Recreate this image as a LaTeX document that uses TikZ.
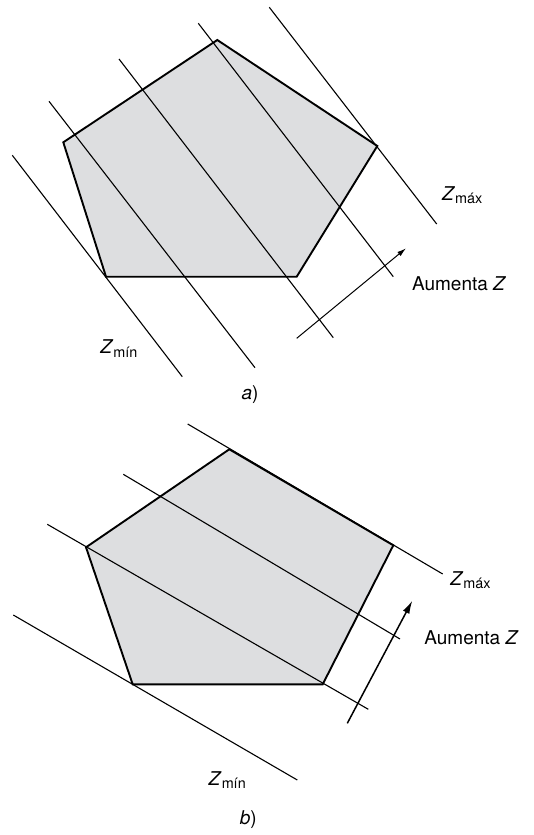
\documentclass[tikz,border=0pt]{standalone}
\usepackage{fontspec}
\setmainfont{TeX Gyre Heros}
\usetikzlibrary{arrows.meta}
\definecolor{regionfill}{RGB}{221,222,224}
\newcommand{\zsub}[1]{\textit{Z}\raisebox{-1.9pt}{\fontsize{7.2pt}{8pt}\selectfont #1}}

\begin{document}
\begin{tikzpicture}[
    x=0.5pt, y=-0.5pt,
    region/.style={draw=black, fill=regionfill, line width=0.95pt, line join=miter},
    level/.style={draw=black, line width=0.55pt},
    growth/.style={-{Latex[length=4.5pt, width=2.6pt]}, line width=0.5pt},
    growthb/.style={-{Latex[length=6.5pt, width=3.6pt]}, line width=0.75pt},
    every node/.style={font=\fontsize{9.5pt}{11pt}\selectfont, inner sep=0pt}
  ]
  \useasboundingbox (0,0) rectangle (534,835);

  % a)
  \coordinate (pa1) at (63.3,142.3);
  \coordinate (pa2) at (217.3,40);
  \coordinate (pa3) at (377.3,146);
  \coordinate (pa4) at (296.7,276.7);
  \coordinate (pa5) at (106,276.7);
  \draw[region] (pa1) -- (pa2) -- (pa3) -- (pa4) -- (pa5) -- cycle;

  \draw[level] (12.3,155.3) -- (182.3,376.7);
  \draw[level] (49,101.3) -- (255,367.7);
  \draw[level] (119,59) -- (333.3,337.7);
  \draw[level] (198.3,23.3) -- (393.3,276.7);
  \draw[level] (269.3,7.3) -- (436.7,224);

  \coordinate (ga0) at (296.7,338.3);
  \coordinate (ga1) at (406,248.3);
  \draw[growth] (ga0) -- (ga1);

  \node[anchor=base west] (zmaxa) at (441.7,200) {\zsub{máx}};
  \node[anchor=base west] (inca) at (411.7,290.7) {Aumenta \textit{Z}};
  \node[anchor=base west] (zmina) at (100,353.3) {\zsub{mín}};
  \node[anchor=base] (capa) at (250,399) {\textit{a})};

  % b)
  \coordinate (pb1) at (86,547.3);
  \coordinate (pb2) at (229.3,449.3);
  \coordinate (pb3) at (393.3,545.3);
  \coordinate (pb4) at (322.7,684.3);
  \coordinate (pb5) at (132.7,684.3);
  \draw[region] (pb1) -- (pb2) -- (pb3) -- (pb4) -- (pb5) -- cycle;

  \draw[level] (187.7,424) -- (442.7,574);
  \draw[level] (123.3,474.3) -- (400,639);
  \draw[level] (47.3,524.3) -- (368.3,709.3);
  \draw[level] (13.3,615) -- (297.3,780);

  \coordinate (gb0) at (347.3,723.3);
  \coordinate (gb1) at (412.3,600.7);
  \draw[growthb] (gb0) -- (gb1);

  \node[anchor=base west] (zmaxb) at (450,585) {\zsub{máx}};
  \node[anchor=base west] (incb) at (424,644) {Aumenta \textit{Z}};
  \node[anchor=base west] (zminb) at (208.3,785) {\zsub{mín}};
  \node[anchor=base] (capb) at (248.3,824) {\textit{b})};
\end{tikzpicture}
\end{document}
